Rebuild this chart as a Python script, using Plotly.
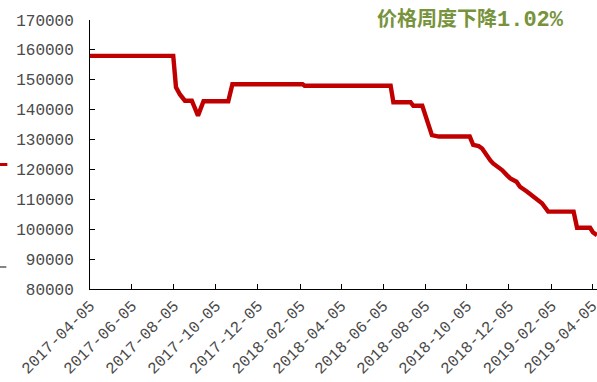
import plotly.graph_objects as go

# Weekly price observations (yuan/ton)
dates = [
    "2017-04-05", "2017-08-04", "2017-08-08", "2017-08-14", "2017-08-21",
    "2017-08-31", "2017-09-09", "2017-09-17", "2017-10-23", "2017-10-29",
    "2018-02-08", "2018-02-11", "2018-06-16", "2018-06-20", "2018-07-15",
    "2018-07-19", "2018-08-01", "2018-08-15", "2018-08-25", "2018-10-09",
    "2018-10-14", "2018-10-22", "2018-10-27", "2018-11-03", "2018-11-08",
    "2018-11-12", "2018-11-18", "2018-11-25", "2018-12-02", "2018-12-07",
    "2018-12-16", "2018-12-21", "2018-12-31", "2019-01-06", "2019-01-12",
    "2019-01-22", "2019-01-31", "2019-03-09", "2019-03-14", "2019-04-02",
    "2019-04-06", "2019-04-12",
]
prices = [
    158000, 158000, 147500, 145000, 143000,
    143000, 138000, 142800, 142800, 148500,
    148500, 148000, 148000, 142500, 142500,
    141300, 141300, 131500, 131000, 131000,
    128200, 127800, 127000, 124300, 123000,
    122000, 121000, 119800, 118100, 117000,
    115900, 114200, 112600, 111500, 110300,
    108700, 105900, 105900, 100500, 100500,
    99000, 97990,
]

tick_dates = [
    "2017-04-05", "2017-06-05", "2017-08-05", "2017-10-05", "2017-12-05",
    "2018-02-05", "2018-04-05", "2018-06-05", "2018-08-05", "2018-10-05",
    "2018-12-05", "2019-02-05", "2019-04-05",
]
tick_labels = list(tick_dates)

y_ticks = list(range(80000, 170001, 10000))
y_tick_labels = [str(v) for v in y_ticks]

headline_cn = "价格周度下降"
headline_pct = "1.02%"

LINE_RED = "#C00000"
TEXT_GRAY = "#4a4a4a"
OLIVE = "#77933C"
MONO = "Liberation Mono, DejaVu Sans Mono, monospace"
tick_font = dict(family=MONO, size=16, color=TEXT_GRAY)

fig = go.Figure()
fig.add_trace(go.Scatter(
    x=dates, y=prices, mode="lines",
    line=dict(color=LINE_RED, width=4.4, shape="linear"),
    showlegend=False, hoverinfo="skip",
))

fig.update_layout(
    width=597, height=382,
    margin=dict(l=90, r=0, t=20, b=93, autoexpand=False),
    paper_bgcolor="white", plot_bgcolor="white",
    showlegend=False,
    xaxis=dict(
        type="date",
        range=["2017-04-05", "2019-04-12"],
        tickmode="array", tickvals=tick_dates, ticktext=tick_labels,
        tickangle=-45, tickfont=tick_font,
        ticklabeloverflow="allow",
        ticks="inside", ticklen=5, tickcolor="#000000", tickwidth=1,
        showline=True, linecolor="#000000", linewidth=1,
        showgrid=False, zeroline=False, automargin=False,
    ),
    yaxis=dict(
        range=[80000, 170000],
        tickmode="array", tickvals=y_ticks, ticktext=y_tick_labels,
        tickfont=tick_font,
        ticks="inside", ticklen=5, tickcolor="#000000", tickwidth=1,
        ticklabelstandoff=12,
        showline=True, linecolor="#000000", linewidth=1,
        showgrid=False, zeroline=False, automargin=False,
    ),
)

fig.add_annotation(
    text=("<b>" + headline_cn + "</b>"
          "<b><span style='font-family:Liberation Mono, DejaVu Sans Mono, monospace;"
          "font-size:22px'>" + headline_pct + "</span></b>"),
    xref="paper", yref="paper", x=(375 - 90) / 507, y=1.007,
    xanchor="left", yanchor="middle", showarrow=False,
    font=dict(family="Noto Sans CJK SC, Noto Sans", size=20, color=OLIVE),
)

# Legend key fragments at the left edge
fig.add_shape(type="line", xref="paper", yref="paper",
              x0=-0.1775, x1=-0.163, y0=(289 - 164.5) / 269, y1=(289 - 164.5) / 269,
              line=dict(color=LINE_RED, width=3))
fig.add_shape(type="line", xref="paper", yref="paper",
              x0=-0.1775, x1=-0.165, y0=(289 - 267) / 269, y1=(289 - 267) / 269,
              line=dict(color="#333333", width=1.2))

fig.write_html("out.html")
